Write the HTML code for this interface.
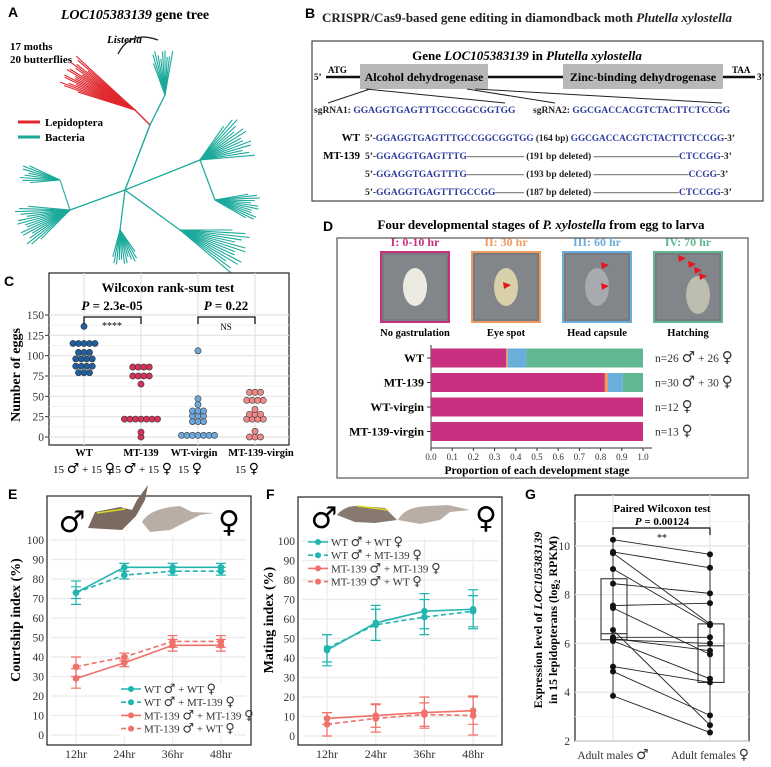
<!DOCTYPE html>
<html><head><meta charset="utf-8">
<style>
html,body{margin:0;padding:0;background:#fff;}
svg{display:block;font-family:"Liberation Serif",serif;}
.lbl{font-family:"Liberation Sans",sans-serif;font-weight:bold;font-size:14px;}
.b{font-weight:bold;}
.seq{font-size:9.5px;font-weight:bold;fill:#2b3a9c;}
.blk{font-size:9.5px;font-weight:bold;fill:#222;}
.tk{font-size:11.5px;fill:#333;}
.sym{font-family:"DejaVu Sans",sans-serif;font-weight:bold;}
</style></head>
<body>
<svg id="fig" width="771" height="767" viewBox="0 0 771 767">
<!-- Panel A -->
<g id="panelA">
<text class="lbl" x="8" y="17">A</text>
<text x="135" y="19" font-size="14" class="b" text-anchor="middle"><tspan font-style="italic">LOC105383139</tspan> gene tree</text>
<text x="10" y="50" font-size="11" class="b">17 moths</text>
<text x="10" y="63" font-size="11" class="b">20 butterflies</text>
<text x="107" y="43" font-size="11" font-style="italic" class="b">Listeria</text>
<path d="M118,54 Q130,30 158,40" fill="none" stroke="#222" stroke-width="1.3"/>
<line x1="18" y1="122" x2="40" y2="122" stroke="#e0282e" stroke-width="3"/>
<text x="45" y="126" font-size="11" class="b">Lepidoptera</text>
<line x1="18" y1="137" x2="40" y2="137" stroke="#1aa99a" stroke-width="3"/>
<text x="45" y="141" font-size="11" class="b">Bacteria</text>
<g id="tree"></g>
</g>

<!-- Panel B -->
<g id="panelB">
<text class="lbl" x="305" y="18">B</text>
<text x="527" y="22" font-size="13" class="b" text-anchor="middle" fill="#222">CRISPR/Cas9-based gene editing in diamondback moth <tspan font-style="italic">Plutella xylostella</tspan></text>
<rect x="312" y="41" width="451" height="160" fill="none" stroke="#444" stroke-width="1.2"/>
<text x="527" y="60" font-size="13" class="b" text-anchor="middle">Gene <tspan font-style="italic">LOC105383139</tspan> in <tspan font-style="italic">Plutella xylostella</tspan></text>
<line x1="326" y1="77" x2="755" y2="77" stroke="#111" stroke-width="2.5"/>
<text x="314" y="80" font-size="9" class="b">5’</text>
<text x="757" y="80" font-size="9" class="b">3’</text>
<text x="328" y="73" font-size="9" class="b">ATG</text>
<text x="732" y="73" font-size="9" class="b">TAA</text>
<rect x="360" y="64" width="128" height="25" fill="#b8b8b8"/>
<text x="424" y="81" font-size="12" class="b" text-anchor="middle">Alcohol dehydrogenase</text>
<rect x="563" y="64" width="160" height="25" fill="#b8b8b8"/>
<text x="643" y="81" font-size="12" class="b" text-anchor="middle">Zinc-binding dehydrogenase</text>
<g stroke="#222" stroke-width="1">
<line x1="370" y1="89" x2="328" y2="103"/><line x1="366" y1="89" x2="505" y2="103"/>
<line x1="467" y1="89" x2="555" y2="103"/><line x1="475" y1="89" x2="722" y2="103"/></g>
<text x="314" y="113" class="blk" font-size="8.5">sgRNA1: <tspan class="seq">GGAGGTGAGTTTGCCGGCGGTGG</tspan></text>
<text x="533" y="113" class="blk" font-size="8.5">sgRNA2: <tspan class="seq">GGCGACCACGTCTACTTCTCCGG</tspan></text>
<text x="360" y="141" font-size="11" class="b" text-anchor="end">WT</text>
<text x="360" y="159" font-size="11" class="b" text-anchor="end">MT-139</text>
<text x="365" y="141" class="blk" textLength="370" lengthAdjust="spacingAndGlyphs">5’-<tspan class="seq">GGAGGTGAGTTTGCCGGCGGTGG</tspan> (164 bp)  <tspan class="seq">GGCGACCACGTCTACTTCTCCGG</tspan>-3’</text>
<text x="365" y="159" class="blk">5’-<tspan class="seq">GGAGGTGAGTTTG</tspan>―――――― (191 bp deleted) ―――――――――<tspan class="seq">CTCCGG</tspan>-3’</text>
<text x="365" y="177" class="blk">5’-<tspan class="seq">GGAGGTGAGTTTG</tspan>―――――― (193 bp deleted) ――――――――――<tspan class="seq">CCGG</tspan>-3’</text>
<text x="365" y="195" class="blk">5’-<tspan class="seq">GGAGGTGAGTTTGCCGG</tspan>――― (187 bp deleted) ―――――――――<tspan class="seq">CTCCGG</tspan>-3’</text>
</g>

<!-- Panel D -->
<g id="panelD">
<text class="lbl" x="323" y="231">D</text>
<text x="541" y="229" font-size="13" class="b" text-anchor="middle">Four developmental stages of <tspan font-style="italic">P. xylostella</tspan> from egg to larva</text>
<rect x="337" y="238" width="411" height="240" fill="none" stroke="#555" stroke-width="1.2"/>
<g id="stages"></g>
<g id="barsD"></g>
<text x="537" y="474" font-size="11.5" class="b" text-anchor="middle">Proportion of each development stage</text>
</g>

<!-- Panel C -->
<g id="panelC">
<text class="lbl" x="4" y="286">C</text>
<rect x="49" y="273" width="240" height="172" fill="#fff" stroke="#333" stroke-width="1.3"/>
<g id="chartC"></g>
<text x="168" y="292" font-size="13" class="b" text-anchor="middle">Wilcoxon rank-sum test</text>
<text x="112" y="310" font-size="13" class="b" text-anchor="middle"><tspan font-style="italic">P</tspan> = 2.3e-05</text>
<text x="226" y="310" font-size="13" class="b" text-anchor="middle"><tspan font-style="italic">P</tspan> = 0.22</text>
<path d="M84,324 V317 H141 V324" fill="none" stroke="#111" stroke-width="1.3"/>
<path d="M198,324 V317 H255 V324" fill="none" stroke="#111" stroke-width="1.3"/>
<text x="112" y="329" font-size="10" text-anchor="middle">****</text>
<text x="226" y="330" font-size="9" text-anchor="middle">NS</text>
<text transform="translate(20,375) rotate(-90)" font-size="14" class="b" text-anchor="middle">Number of eggs</text>
</g>

<!-- Panel E -->
<g id="panelE">
<text class="lbl" x="8" y="499">E</text>
<rect x="47" y="496" width="204" height="249" fill="#fff" stroke="#333" stroke-width="1.3"/>
<g id="chartE"></g>
<text x="72" y="532" font-size="30" class="sym" font-weight="normal" text-anchor="middle">♂</text>
<text x="229" y="532" font-size="30" class="sym" font-weight="normal" text-anchor="middle">♀</text>
<g>
<path d="M88,528 L95,512 L120,507 L132,510 L137,500 L148,485 L145,500 L136,516 L122,530 Z" fill="#7a6a60"/>
<line x1="97" y1="513" x2="125" y2="509" stroke="#dada20" stroke-width="1.5"/>
<path d="M142,522 Q150,508 180,506 L192,512 L214,513 L200,515 L190,520 L170,530 L150,532 Z" fill="#b9aea6"/>
</g>
<text transform="translate(20,620) rotate(-90)" font-size="14" class="b" text-anchor="middle">Courtship index (%)</text>
</g>

<!-- Panel F -->
<g id="panelF">
<text class="lbl" x="266" y="499">F</text>
<rect x="298" y="497" width="204" height="248" fill="#fff" stroke="#333" stroke-width="1.3"/>
<g id="chartF"></g>
<text x="324" y="528" font-size="30" class="sym" font-weight="normal" text-anchor="middle">♂</text>
<text x="486" y="528" font-size="30" class="sym" font-weight="normal" text-anchor="middle">♀</text>
<g>
<path d="M337,515 Q345,505 360,506 L385,508 L397,520 L375,523 L355,522 Z" fill="#877870"/>
<line x1="357" y1="506" x2="388" y2="510" stroke="#dada20" stroke-width="1.5"/>
<path d="M398,520 Q405,506 430,506 L448,505 L470,510 L450,512 L440,520 L420,524 Z" fill="#b9aea6"/>
</g>
<text transform="translate(273,620) rotate(-90)" font-size="14" class="b" text-anchor="middle">Mating index (%)</text>
</g>

<!-- Panel G -->
<g id="panelG">
<text class="lbl" x="525" y="499">G</text>
<rect x="575" y="495" width="174" height="246" fill="#fff" stroke="#333" stroke-width="1.3"/>
<g id="chartG"></g>
<text x="662" y="512" font-size="11" class="b" text-anchor="middle">Paired Wilcoxon test</text>
<text x="662" y="525" font-size="11" class="b" text-anchor="middle"><tspan font-style="italic">P</tspan> = 0.00124</text>
<path d="M613,535 V528 H710 V535" fill="none" stroke="#111" stroke-width="1.2"/>
<text x="662" y="541" font-size="10" text-anchor="middle">**</text>
<text transform="translate(542,620) rotate(-90)" font-size="12" class="b" text-anchor="middle">Expression level of <tspan font-style="italic">LOC105383139</tspan></text>
<text transform="translate(557,620) rotate(-90)" font-size="12" class="b" text-anchor="middle">in 15 lepidopterans (log<tspan font-size="8" dy="3">2</tspan><tspan dy="-3"> RPKM)</tspan></text>
<text x="613" y="759" font-size="11.5" text-anchor="middle" fill="#333">Adult males <tspan class="sym" font-size="14">♂</tspan></text>
<text x="710" y="759" font-size="11.5" text-anchor="middle" fill="#333">Adult females <tspan class="sym" font-size="14">♀</tspan></text>
</g>
</svg>

<script>
// ---------- data ----------
const cCategories = ['WT','MT-139','WT-virgin','MT-139-virgin'];
const cSubLabels = ['15 ♂ + 15 ♀','15 ♂ + 15 ♀','15 ♀','15 ♀'];
const cWT = [136,115,115,115,115,115,104,104,104,96,96,96,96,87,87,87,87,79,79,79];
const cMT = [86,86,86,86,75,75,75,75,65,22,22,22,22,22,22,22,6,0];
const cWTv = [106,47,40,32,32,32,26,26,26,19,19,19,2,2,2,2,2,2,2];
const cMTv = [55,55,55,45,45,45,45,34,28,28,28,22,22,22,22,7,0,0,0];
const cTicks = [0,25,50,75,100,125,150];

const dGroups = ['WT','MT-139','WT-virgin','MT-139-virgin'];
const dN = ['n=26 ♂ + 26 ♀','n=30 ♂ + 30 ♀','n=12 ♀','n=13 ♀'];
const dStage1 = [0.355,0.82,1,1];
const dStage2 = [0.007,0.015,0,0];
const dStage3 = [0.088,0.07,0,0];
const dStage4 = [0.55,0.095,0,0];
const dTicks = [0,0.1,0.2,0.3,0.4,0.5,0.6,0.7,0.8,0.9,1.0];
const dStageTitles = ['I: 0-10 hr','II: 30 hr','III: 60 hr','IV: 70 hr'];
const dStageCaptions = ['No gastrulation','Eye spot','Head capsule','Hatching'];

const timeLabels = ['12hr','24hr','36hr','48hr'];
const seriesNames = ['WT ♂ + WT ♀','WT ♂ + MT-139 ♀','MT-139 ♂ + MT-139 ♀','MT-139 ♂ + WT ♀'];
const eWTWT = [73,86,86,86];
const eWTWTerr = [6,2,2,2];
const eWTMT = [73,82,84,84];
const eWTMTerr = [3,2,2,2];
const eMTMT = [29,37,46,46];
const eMTMTerr = [5,2,3,3];
const eMTWT = [35,40,48,48];
const eMTWTerr = [5,2,3,3];
const fWTWT = [44,58,64,65];
const fWTWTerr = [8,9,9,10];
const fWTMT = [45,57,61,64];
const fWTMTerr = [7,8,9,8];
const fMTMT = [9,10.5,12,13];
const fMTMTerr = [3,6,8,7];
const fMTWT = [6,9,11,10.5];
const fMTWTerr = [6,7,6,10];
const pctTicks = [0,10,20,30,40,50,60,70,80,90,100];

const gMales = [10.25,9.75,9.7,9.05,8.45,7.55,7.45,6.55,6.25,6.2,6.15,6.1,5.05,4.85,3.85];
const gFemales = [9.65,9.1,6.8,6.75,8.05,7.65,5.55,2.65,6.25,5.7,6.0,4.55,4.4,3.05,2.35];
const gMaleBox = [6.15,6.4,8.65];
const gFemaleBox = [4.4,5.9,6.8];
const gTicks = [2,4,6,8,10];

// ---------- helpers ----------
const NS='http://www.w3.org/2000/svg';
function mk(tag,attrs,parent){const e=document.createElementNS(NS,tag);for(const k in attrs)e.setAttribute(k,attrs[k]);parent.appendChild(e);return e;}
function symText(t,str,fs){
 str.split(/([♂♀])/).forEach(part=>{if(!part)return;const s=document.createElementNS(NS,'tspan');
  if(part==='♂'||part==='♀'){s.setAttribute('class','sym');s.setAttribute('font-size',fs);}
  s.textContent=part;t.appendChild(s);});
}

// ---------- tree (decorative) ----------
(function(){
 const g=document.getElementById('tree');
 const teal='#1aa99a', red='#e0282e';
 function seg(x1,y1,x2,y2,c,w){const l=mk('line',{x1,y1,x2,y2,stroke:c,'stroke-width':w||1.1},g);
 
 return l;}
 function fan(x,y,ang,spread,len,n,c){
  for(let i=0;i<n;i++){const a=(ang+(i/(n-1)-0.5)*spread)*Math.PI/180;const L=len*(0.75+0.25*Math.abs(Math.sin(i*2.3)));
   seg(x,y,x+L*Math.cos(a),y+L*Math.sin(a),c);}
 }
 seg(125,190,150,125,teal,1.4);seg(150,125,135,110,red,1.4);seg(150,125,165,95,teal,1.3);
 fan(135,110,-150,25,80,18,red);
 fan(165,95,-95,30,45,10,teal);
 seg(125,190,200,160,teal,1.3);fan(200,160,-30,50,55,14,teal);
 seg(200,160,215,200,teal,1.2);fan(215,200,10,40,45,12,teal);
 seg(125,190,180,230,teal,1.3);fan(180,230,20,40,70,14,teal);
 seg(125,190,120,230,teal,1.2);fan(120,230,80,50,35,12,teal);
 seg(125,190,70,210,teal,1.3);fan(70,210,160,50,55,16,teal);
 seg(70,210,60,180,teal,1.1);fan(60,180,-170,30,40,8,teal);
})();

// ---------- Panel C ----------
(function(){
 const g=document.getElementById('chartC');
 const yC=v=>437-v*(122/150);
 const xC=i=>84+i*57;
 for(let v=0;v<=150;v+=12.5){const l=mk('line',{x1:49,x2:289,y1:yC(v),y2:yC(v),stroke:v%25===0?'#e2e2e2':'#efefef','stroke-width':v%25===0?1.2:0.8},g);
  
  }
 cCategories.forEach((c,i)=>{const l=mk('line',{x1:xC(i),x2:xC(i),y1:273,y2:445,stroke:'#e2e2e2','stroke-width':1.2},g);
  
  
  const t=mk('text',{x:xC(i)+(i===2?-4:(i===3?6:0)),y:456,'font-size':10.5,'font-weight':'bold','text-anchor':'middle'},g);t.textContent=c;
  
  
  const s=mk('text',{x:xC(i)+(i>=2?-8:0),y:473,'font-size':11,'text-anchor':'middle'},g);symText(s,cSubLabels[i],14);
  
  });
 cTicks.forEach(v=>{const t=mk('text',{x:44,y:yC(v)+4,'text-anchor':'end',class:'tk'},g);t.textContent=v;
  
  
  const l=mk('line',{x1:45,x2:49,y1:yC(v),y2:yC(v),stroke:'#333'},g);
  
  });
 const sets=[cWT,cMT,cWTv,cMTv];const cols=['#1f5f9f','#d3335a','#6fa8dc','#f08a8a'];
 sets.forEach((arr,i)=>{const groups={};arr.forEach(v=>{groups[v]=(groups[v]||0)+1;});
  Object.keys(groups).forEach(k=>{const n=groups[k];for(let j=0;j<n;j++){
   const c=mk('circle',{cx:xC(i)+(j-(n-1)/2)*5.5,cy:yC(+k),r:3.1,fill:cols[i],stroke:'#333','stroke-width':0.6},g);
   
   }});});
})();

// ---------- Panel D ----------
(function(){
 const g=document.getElementById('stages');
 const cols=['#c8307f','#ee9a60','#6aaedb','#5fb891'];
 const xs=[381,472,563,654];
 xs.forEach((x,i)=>{
  const t=mk('text',{x:x+34,y:246,'font-size':12,'font-weight':'bold','text-anchor':'middle',fill:cols[i]},g);t.textContent=dStageTitles[i];
  
  
  const r=mk('rect',{x:x,y:252,width:68,height:70,fill:'#777b80',stroke:cols[i],'stroke-width':2},g);
  
  
  mk('rect',{x:x+3,y:255,width:62,height:64,fill:'#8a8e92',opacity:0.6},g);
  const eg=mk('ellipse',{cx:x+34+(i===3?10:0),cy:287+(i===3?8:0),rx:12,ry:19,fill:i===0?'#ecebe2':(i===1?'#d8d0a8':(i===2?'#a8aab0':'#bdbdb0'))},g);
  
  
  const c=mk('text',{x:x+34,y:336,'font-size':10.5,'font-weight':'bold','text-anchor':'middle'},g);c.textContent=dStageCaptions[i];
  
  
 });
 const tri=[[507,285],[605,265],[605,286],[682,258],[692,264],[698,270],[703,276]];
 tri.forEach(p=>{const t=mk('polygon',{points:`${p[0]-4},${p[1]-3} ${p[0]+4},${p[1]} ${p[0]-3},${p[1]+4}`,fill:'#e5161c'},g);
  
  });

 const b=document.getElementById('barsD');
 const xD=p=>431+p*212;
 const yD=i=>358+i*24.5;
 mk('line',{x1:431,x2:431,y1:345,y2:448,stroke:'#333'},b);
 const ax=mk('line',{x1:431,x2:652,y1:448,y2:448,stroke:'#333'},b);
 
 
 dTicks.forEach(v=>{mk('line',{x1:xD(v),x2:xD(v),y1:448,y2:451,stroke:'#333'},b);
  const t=mk('text',{x:xD(v),y:460,'font-size':9,'text-anchor':'middle',fill:'#333'},b);t.textContent=v.toFixed(1);
  
  });
 const cols2=['#c8307f','#ee9a60','#6aaedb','#5fb891'];
 dGroups.forEach((gname,i)=>{
  let acc=0;[dStage1,dStage2,dStage3,dStage4].forEach((s,k)=>{const v=s[i];if(v>0){
   const r=mk('rect',{x:xD(acc),y:yD(i)-9.5,width:v*212,height:19,fill:cols2[k]},b);
   
   }acc+=v;});
  mk('line',{x1:427,x2:431,y1:yD(i),y2:yD(i),stroke:'#333'},b);
  const t=mk('text',{x:424,y:yD(i)+4,'font-size':12,'font-weight':'bold','text-anchor':'end'},b);t.textContent=gname;
  
  
  const n=mk('text',{x:655,y:yD(i)+4,'font-size':11.5,fill:'#333'},b);symText(n,dN[i],15);
  
  
 });
})();

// ---------- Panels E & F ----------
function lineChart(gid,x0,dx,y0,series,errs,legendX,legendY,prefix){
 const g=document.getElementById(gid);
 const X=i=>x0+i*dx, Y=v=>y0-v*1.95;
 pctTicks.forEach(v=>{const l=mk('line',{x1:X(0)-25,x2:X(3)+25,y1:Y(v),y2:Y(v),stroke:'#ebebeb','stroke-width':1.2},g);
  
  
  const t=mk('text',{x:X(0)-32,y:Y(v)+4,'text-anchor':'end',class:'tk'},g);t.textContent=v;
  
  });
 timeLabels.forEach((t0,i)=>{const l=mk('line',{x1:X(i),x2:X(i),y1:Y(100)-3,y2:Y(0)+8,stroke:'#ebebeb','stroke-width':1.2},g);
  
  
  const t=mk('text',{x:X(i),y:758,'font-size':12,'text-anchor':'middle',fill:'#333'},g);t.textContent=t0;
  
  });
 const cols=['#22b5b0','#22b5b0','#f0706a','#f0706a'];
 series.forEach((s,k)=>{
  const dash=k%2===1?'5,3':'none';
  const p=mk('polyline',{points:s.map((v,i)=>X(i)+','+Y(v)).join(' '),fill:'none',stroke:cols[k],'stroke-width':1.6,'stroke-dasharray':dash},g);
  
  
  s.forEach((v,i)=>{const e=errs[k][i];
   const eb=mk('path',{d:`M${X(i)-5},${Y(v+e)}H${X(i)+5}M${X(i)},${Y(v+e)}V${Y(v-e)}M${X(i)-5},${Y(v-e)}H${X(i)+5}`,stroke:cols[k],'stroke-width':1.2,fill:'none'},g);
   
   
   const c=mk('circle',{cx:X(i),cy:Y(v),r:3.3,fill:cols[k]},g);
   
   });
 });
 seriesNames.forEach((n,k)=>{const y=legendY+k*13.2;
  if(prefix==='e'){mk('rect',{x:legendX-2,y:y-6,width:115,height:13,fill:'#fff'},g);}
  const l=mk('line',{x1:legendX,x2:legendX+20,y1:y,y2:y,stroke:cols[k],'stroke-width':1.6,'stroke-dasharray':k%2===1?'5,3':'none'},g);
  
  
  mk('circle',{cx:legendX+10,cy:y,r:3,fill:cols[k]},g);
  const t=mk('text',{x:legendX+23,y:y+4,'font-size':11,fill:'#333'},g);symText(t,n,13);
  
  });
}
lineChart('chartE',76,48.3,735,[eWTWT,eWTMT,eMTMT,eMTWT],[eWTWTerr,eWTMTerr,eMTMTerr,eMTWTerr],121,689,'e');
lineChart('chartF',327,48.7,736,[fWTWT,fWTMT,fMTMT,fMTWT],[fWTWTerr,fWTMTerr,fMTMTerr,fMTWTerr],308,542,'f');

// ---------- Panel G ----------
(function(){
 const g=document.getElementById('chartG');
 const Y=v=>741-(v-2)*24.4; const xM=613, xF=710;
 [3,5,7,9,11].forEach(v=>{mk('line',{x1:575,x2:749,y1:Y(v),y2:Y(v),stroke:'#f2f2f2'},g);});
 gTicks.forEach(v=>{const l=mk('line',{x1:575,x2:749,y1:Y(v),y2:Y(v),stroke:'#e6e6e6','stroke-width':1.3},g);
  
  
  const t=mk('text',{x:570,y:Y(v)+4,'text-anchor':'end',class:'tk'},g);t.textContent=v;
  
  });
 [xM,xF].forEach(x=>mk('line',{x1:x,x2:x,y1:495,y2:741,stroke:'#e6e6e6','stroke-width':1.3},g));
 mk('line',{x1:xM,x2:xM,y1:Y(Math.max(...gMales)),y2:Y(Math.min(...gMales)),stroke:'#333'},g);
 mk('line',{x1:xF,x2:xF,y1:Y(Math.max(...gFemales)),y2:Y(Math.min(...gFemales)),stroke:'#333'},g);
 [[xM,gMaleBox],[xF,gFemaleBox]].forEach(([x,b])=>{
  const r=mk('rect',{x:x-12,y:Y(b[2]),width:26,height:Y(b[0])-Y(b[2]),fill:'none',stroke:'#333','stroke-width':1.1},g);
  
  
  const m=mk('line',{x1:x-12,x2:x+14,y1:Y(b[1]),y2:Y(b[1]),stroke:'#333','stroke-width':1.1},g);
  
  });
 gMales.forEach((m,i)=>{const f=gFemales[i];
  const l=mk('line',{x1:xM,y1:Y(m),x2:xF,y2:Y(f),stroke:'#222','stroke-width':0.9},g);
  
  
  const a=mk('circle',{cx:xM,cy:Y(m),r:3,fill:'#111'},g);
  
  
  const b=mk('circle',{cx:xF,cy:Y(f),r:3,fill:'#111'},g);
  
  });
})();
</script>
</body></html>
